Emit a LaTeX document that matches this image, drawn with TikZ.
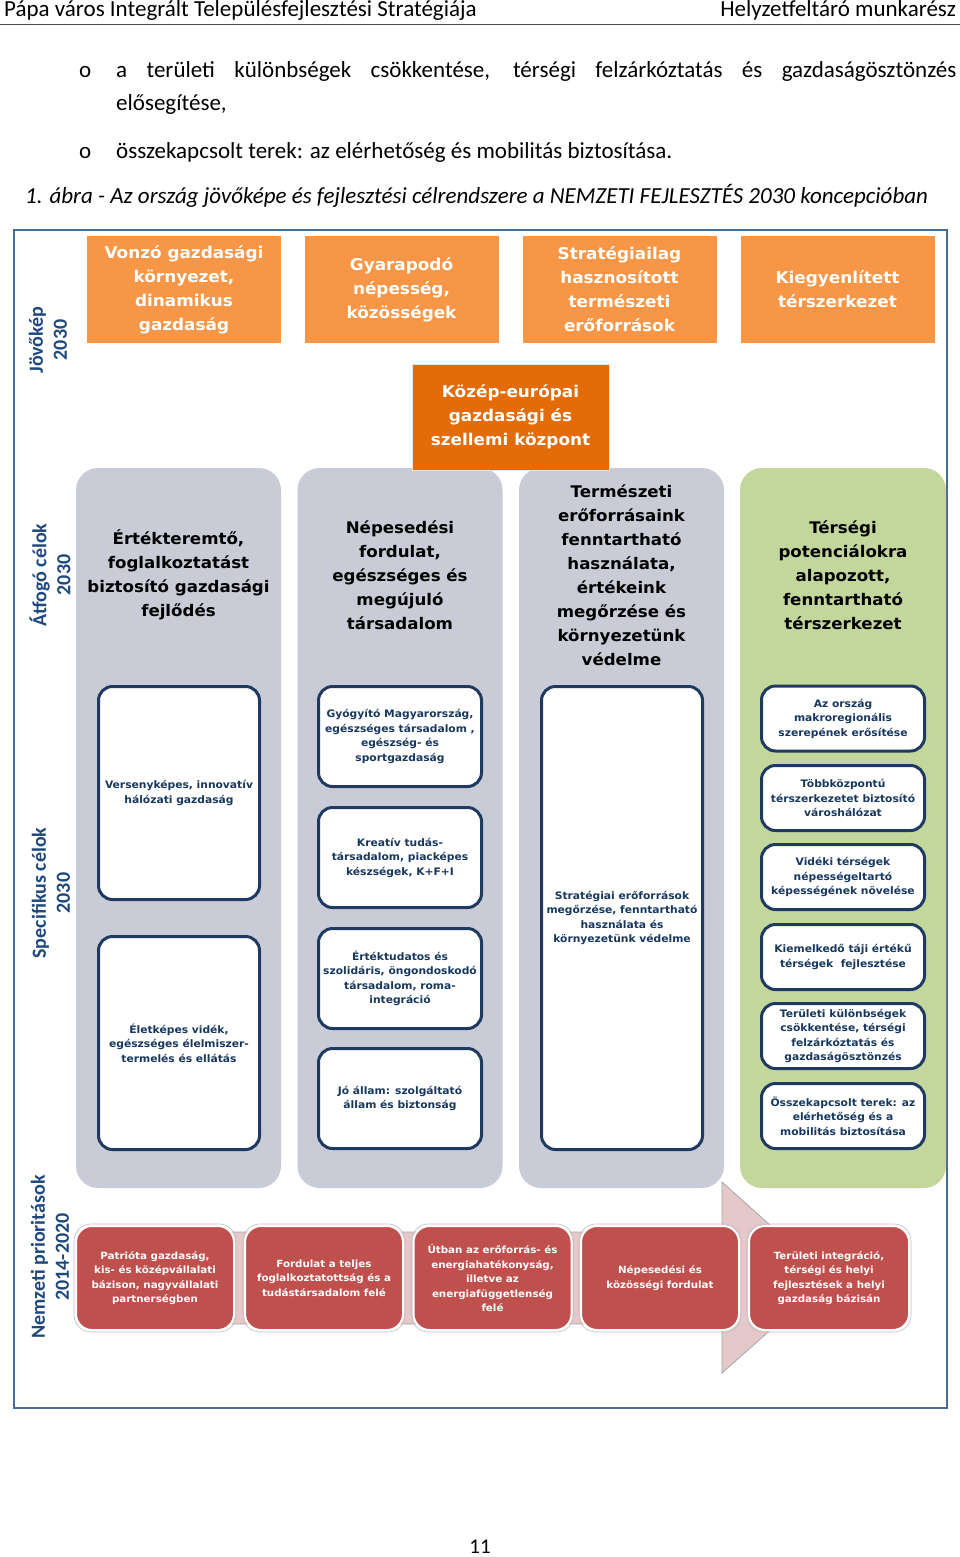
\documentclass[tikz,border=0pt]{standalone}
\usepackage{fontspec}
\setmainfont{Carlito}
\newfontfamily\vfont{DejaVu Sans}[FakeStretch=1.04]
\definecolor{orangeA}{HTML}{F79646}
\definecolor{orangeB}{HTML}{E36C09}
\definecolor{colgray}{HTML}{C9CCD7}
\definecolor{colgreen}{HTML}{C3D69B}
\definecolor{navyline}{HTML}{1F3A60}
\definecolor{navytext}{HTML}{17375E}
\definecolor{redbox}{HTML}{C0504D}
\definecolor{pinkarrow}{HTML}{E4C8CA}
\definecolor{framec}{HTML}{4A6C94}
\definecolor{labelblue}{HTML}{1F497D}
\tikzset{
  topbox/.style={fill=orangeA, text=white, font=\vfont\bfseries\fontsize{16.2}{24}\selectfont, align=center, minimum width=194pt, minimum height=107pt, inner sep=0pt},
  midbox/.style={topbox, fill=orangeB, draw=white!90!black, line width=1pt, minimum width=197pt, minimum height=106pt},
  colbox/.style={fill=colgray, rounded corners=22pt, minimum width=205pt, minimum height=720pt, inner sep=0pt},
  colhead/.style={text=black, font=\vfont\bfseries\fontsize{16}{24}\selectfont, align=center, inner sep=0pt},
  sbox/.style={draw=navyline, line width=3pt, fill=white, rounded corners=14pt, text=navytext, font=\vfont\bfseries\fontsize{10.3}{14.5}\selectfont, align=center, inner sep=0pt},
  rbox/.style={fill=redbox, draw=white, line width=2pt, rounded corners=16pt, text=white, font=\vfont\bfseries\fontsize{9.9}{14.5}\selectfont, align=center, inner sep=0pt, minimum height=104pt},
  rshadow/.style={draw=black!25, line width=0.6pt, rounded corners=17pt, inner sep=0pt, minimum height=108pt},
  vlabel/.style={rotate=90, text=labelblue, font=\bfseries\fontsize{20}{24}\selectfont, align=center, inner sep=0pt},
  bodytext/.style={font=\fontsize{23}{28}\selectfont, inner sep=0pt, anchor=base west}
}
\begin{document}
\begin{tikzpicture}[x=1pt,y=-1pt]
\path[use as bounding box, fill=white] (0,0) rectangle (960,1557);
% header
\node[font=\fontsize{23}{28}\selectfont, anchor=base west, inner sep=0pt] (hl) at (4,17) {Pápa város Integrált Településfejlesztési Stratégiája};
\node[font=\fontsize{23}{28}\selectfont, anchor=base east, inner sep=0pt] (hr) at (956,17) {Helyzetfeltáró munkarész};
\coordinate (hlineA) at (0,25);
\coordinate (hlineB) at (960,25);
\draw[line width=1pt, black!70] (hlineA) -- (hlineB);
% bullets
\node[bodytext] (b1o) at (79,78) {o};
\node[bodytext] (b1) at (116,78) {\makebox[840pt][s]{a területi különbségek csökkentése, térségi felzárkóztatás és gazdaságösztönzés}};
\node[bodytext] (b1b) at (116,111) {elősegítése,};
\node[bodytext] (b2o) at (79,159) {o};
\node[bodytext] (b2) at (116,159) {összekapcsolt terek: az elérhetőség és mobilitás biztosítása.};
\node[bodytext, font=\itshape\fontsize{23}{28}\selectfont] (cap) at (25,204) {1. ábra - Az ország jövőképe és fejlesztési célrendszere a NEMZETI FEJLESZTÉS 2030 koncepcióban};
% frame
\draw[framec, line width=1.5pt] (14,230) rectangle (947,1408);
% vertical labels
\node[vlabel] (l1) at (48,340) {Jövőkép\\2030};
\node[vlabel] (l2) at (50,575) {Átfogó célok\\2030};
\node[vlabel] (l3) at (51,893) {Specifikus célok\\2030};
\node[vlabel] (l4) at (50,1257) {Nemzeti prioritások\\2014-2020};
% top boxes
\node[topbox] (t1) at (184,289.5) {Vonzó gazdasági\\környezet,\\dinamikus\\gazdaság};
\node[topbox] (t2) at (401.5,289.5) {Gyarapodó\\népesség,\\közösségek};
\node[topbox] (t3) at (619.5,289.5) {Stratégiailag\\hasznosított\\természeti\\erőforrások};
\node[topbox] (t4) at (837.5,289.5) {Kiegyenlített\\térszerkezet};
% columns
\node[colbox] (c1) at (178.5,828) {};
\node[colbox] (c2) at (400,828) {};
\node[colbox] (c3) at (621.5,828) {};
\node[colbox, fill=colgreen, minimum width=206pt] (c4) at (843,828) {};
\node[midbox] (mid) at (510.5,417) {Közép-európai\\gazdasági és\\szellemi központ};
% column headers
\node[colhead] (h1) at (178.5,575) {Értékteremtő,\\foglalkoztatást\\biztosító gazdasági\\fejlődés};
\node[colhead] (h2) at (400,575) {Népesedési\\fordulat,\\egészséges és\\megújuló\\társadalom};
\node[colhead] (h3) at (621.5,575) {Természeti\\erőforrásaink\\fenntartható\\használata,\\értékeink\\megőrzése és\\környezetünk\\védelme};
\node[colhead] (h4) at (843,575) {Térségi\\potenciálokra\\alapozott,\\fenntartható\\térszerkezet};
% specific goals col1
\node[sbox, minimum width=161pt, minimum height=213pt] (s11) at (179,793) {Versenyképes, innovatív\\hálózati gazdaság};
\node[sbox, minimum width=161pt, minimum height=213pt] (s12) at (179,1043) {Életképes vidék,\\egészséges élelmiszer-\\termelés és ellátás};
% col2
\node[sbox, minimum width=163pt, minimum height=100pt] (s21) at (400,736.5) {Gyógyító Magyarország,\\egészséges társadalom ,\\egészség- és\\sportgazdaság};
\node[sbox, minimum width=163pt, minimum height=100pt] (s22) at (400,857.5) {Kreatív tudás-\\társadalom, piacképes\\készségek, K+F+I};
\node[sbox, minimum width=163pt, minimum height=100pt] (s23) at (400,978.5) {Értéktudatos és\\szolidáris, öngondoskodó\\társadalom, roma-\\integráció};
\node[sbox, minimum width=163pt, minimum height=100pt] (s24) at (400,1098.5) {Jó állam: szolgáltató\\állam és biztonság};
% col3
\node[sbox, minimum width=161pt, minimum height=463pt] (s31) at (622,918) {Stratégiai erőforrások\\megőrzése, fenntartható\\használata és\\környezetünk védelme};
% col4
\node[sbox, minimum width=163pt, minimum height=65pt] (s41) at (843,718.5) {Az ország\\makroregionális\\szerepének erősítése};
\node[sbox, minimum width=163pt, minimum height=65pt] (s42) at (843,798) {Többközpontú\\térszerkezetet biztosító\\városhálózat};
\node[sbox, minimum width=163pt, minimum height=65pt] (s43) at (843,877) {Vidéki térségek\\népességeltartó\\képességének növelése};
\node[sbox, minimum width=163pt, minimum height=65pt] (s44) at (843,957) {Kiemelkedő táji értékű\\térségek\ \ fejlesztése};
\node[sbox, minimum width=163pt, minimum height=65pt] (s45) at (843,1036) {Területi különbségek\\csökkentése, térségi\\felzárkóztatás és\\gazdaságösztönzés};
\node[sbox, minimum width=163pt, minimum height=65pt] (s46) at (843,1116) {Összekapcsolt terek: az\\elérhetőség és a\\mobilitás biztosítása};
% arrow
\draw[fill=pinkarrow, draw=black!35, line width=0.8pt] (78,1232) -- (722,1232) -- (722,1182) -- (829,1278) -- (722,1373) -- (722,1324) -- (78,1324) -- cycle;
% red boxes
\node[rshadow, minimum width=162pt] (r1s) at (155,1278) {};
\node[rshadow, minimum width=162pt] (r2s) at (324,1278) {};
\node[rshadow, minimum width=162pt] (r3s) at (492.5,1278) {};
\node[rshadow, minimum width=162pt] (r4s) at (660,1278) {};
\node[rshadow, minimum width=164pt] (r5s) at (829,1278) {};
\node[rbox, minimum width=158pt] (r1) at (155,1278) {Patrióta gazdaság,\\kis- és középvállalati\\bázison, nagyvállalati\\partnerségben};
\node[rbox, minimum width=158pt] (r2) at (324,1278) {Fordulat a teljes\\foglalkoztatottság és a\\tudástársadalom felé};
\node[rbox, minimum width=158pt] (r3) at (492.5,1278) {Útban az erőforrás- és\\energiahatékonyság,\\illetve az\\energiafüggetlenség\\felé};
\node[rbox, minimum width=158pt] (r4) at (660,1278) {Népesedési és\\közösségi fordulat};
\node[rbox, minimum width=160pt] (r5) at (829,1278) {Területi integráció,\\térségi és helyi\\fejlesztések a helyi\\gazdaság bázisán};
% page number
\node[font=\fontsize{21}{24}\selectfont, inner sep=0pt] (pg) at (480,1547) {11};
\end{tikzpicture}
\end{document}
